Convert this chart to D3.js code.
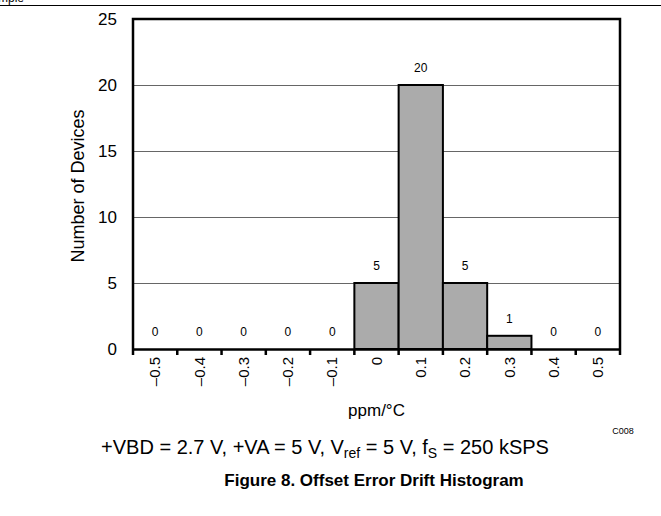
<!DOCTYPE html>
<html><head><meta charset="utf-8">
<script src="https://cdn.jsdelivr.net/npm/d3@7"></script>
<style>body{margin:0;background:#fff}svg{display:block;font-family:"Liberation Sans",Arial,sans-serif}</style>
</head><body>
<svg id="c" width="661" height="516"></svg>
<script>
const categories = ["–0.5","–0.4","–0.3","–0.2","–0.1","0","0.1","0.2","0.3","0.4","0.5"];
const counts = [0,0,0,0,0,5,20,5,1,0,0];
const yTicks = [0,5,10,15,20,25];

const svg = d3.select("#c");
const L = 133, R = 620, T = 19, B = 349;
const x = d3.scaleBand().domain(categories).range([L, R]).padding(0);
const y = d3.scaleLinear().domain([0, 25]).range([B, T]);

// page artifacts
svg.append("text").attr("x", -2).attr("y", 2).attr("font-size", 12).text("mple");
svg.append("line").attr("x1", 0).attr("x2", 661).attr("y1", 5.5).attr("y2", 5.5).attr("stroke", "#000").attr("stroke-width", 1);

// gridlines
svg.append("g").selectAll("line").data(yTicks.filter(d => d > 0 && d < 25)).join("line")
  .attr("x1", L).attr("x2", R).attr("y1", d => Math.round(y(d)) + 0.5).attr("y2", d => Math.round(y(d)) + 0.5)
  .attr("stroke", "#666").attr("stroke-width", 1);

// bars
svg.append("g").selectAll("rect").data(counts.map((v, i) => ({c: categories[i], v}))).join("rect")
  .filter(d => d.v > 0)
  .attr("x", d => x(d.c)).attr("width", x.bandwidth())
  .attr("y", d => y(d.v)).attr("height", d => y(0) - y(d.v))
  .attr("fill", "#ababab").attr("stroke", "#000").attr("stroke-width", 2);

// value labels
svg.append("g").selectAll("text").data(counts.map((v, i) => ({c: categories[i], v}))).join("text")
  .attr("x", d => x(d.c) + x.bandwidth() / 2).attr("y", d => y(d.v) - 13)
  .attr("text-anchor", "middle").attr("font-size", 12).attr("fill", "#000").text(d => d.v);

// frame
svg.append("path").attr("d", `M${L},${B}V${T}H${R}V${B}`).attr("fill", "none").attr("stroke", "#000").attr("stroke-width", 2.5);

// y axis
const ya = svg.append("g").attr("transform", `translate(${L},0)`)
  .call(d3.axisLeft(y).tickValues(yTicks).tickSize(0).tickPadding(16));
ya.select(".domain").remove();
ya.selectAll("text").attr("font-size", 17).attr("font-family", "Liberation Sans, Arial, sans-serif").attr("fill", "#000");

// x axis
const xa = svg.append("g").attr("transform", `translate(0,${B})`)
  .call(d3.axisBottom(x).tickSize(0).tickPadding(0));
xa.select(".domain").attr("stroke", "#000").attr("stroke-width", 2.5);
xa.selectAll("text").attr("font-size", 15).attr("font-family", "Liberation Sans, Arial, sans-serif").attr("fill", "#000")
  .attr("text-anchor", "end").attr("dy", "0.35em")
  .attr("transform", "translate(0,8) rotate(-90)").attr("x", 0).attr("y", 0);
// boundary tick marks
svg.append("g").selectAll("line").data(categories.map(c => x(c)).concat([R])).join("line")
  .attr("x1", d => d).attr("x2", d => d).attr("y1", B).attr("y2", B + 6)
  .attr("stroke", "#000").attr("stroke-width", 2.5);

// axis titles
svg.append("text").attr("transform", `translate(84,186) rotate(-90)`).attr("text-anchor", "middle")
  .attr("font-size", 18).text("Number of Devices");
svg.append("text").attr("x", (L + R) / 2).attr("y", 416).attr("text-anchor", "middle")
  .attr("font-size", 17).text("ppm/°C");
svg.append("text").attr("x", 623).attr("y", 434).attr("text-anchor", "middle")
  .attr("font-size", 9).text("C008");

// condition line
const sub = svg.append("text").attr("x", 325).attr("y", 454).attr("text-anchor", "middle").attr("font-size", 20);
sub.append("tspan").text("+VBD = 2.7 V, +VA = 5 V, V");
sub.append("tspan").attr("font-size", 14).attr("dy", 4).text("ref");
sub.append("tspan").attr("dy", -4).text(" = 5 V, f");
sub.append("tspan").attr("font-size", 14).attr("dy", 4).text("S");
sub.append("tspan").attr("dy", -4).text(" = 250 kSPS");

svg.append("text").attr("x", 374).attr("y", 486).attr("text-anchor", "middle")
  .attr("font-size", 17).attr("font-weight", "bold").text("Figure 8. Offset Error Drift Histogram");
</script>
</body></html>
